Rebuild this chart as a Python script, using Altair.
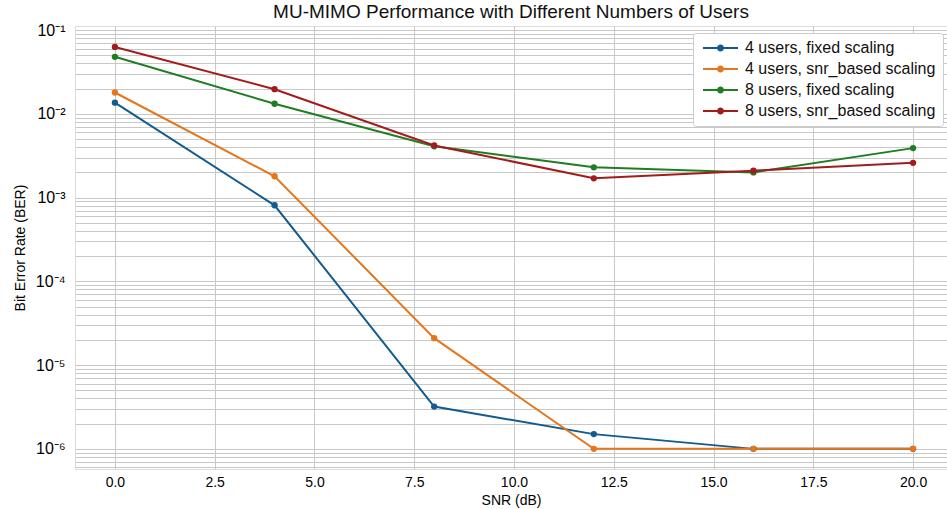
import altair as alt
import pandas as pd

# SNR sweep (dB) and measured bit error rates for each configuration
snr_db = [0, 4, 8, 12, 16, 20]
ber_4_fixed = [0.0136, 8.1e-4, 3.2e-6, 1.5e-6, 1.0e-6, 1.0e-6]
ber_4_snr = [0.0180, 1.8e-3, 2.1e-5, 1.0e-6, 1.0e-6, 1.0e-6]
ber_8_fixed = [0.0480, 0.0132, 0.0041, 0.0023, 0.0020, 0.0039]
ber_8_snr = [0.0630, 0.0197, 0.0042, 0.0017, 0.0021, 0.0026]

series_names = [
    "4 users, fixed scaling",
    "4 users, snr_based scaling",
    "8 users, fixed scaling",
    "8 users, snr_based scaling",
]
series_values = [ber_4_fixed, ber_4_snr, ber_8_fixed, ber_8_snr]
series_colors = ["#125b8e", "#e5761b", "#1f7d22", "#a31c1d"]

x_ticks = [0, 2.5, 5, 7.5, 10, 12.5, 15, 17.5, 20]
# major + minor log gridlines
y_grid = [m * 10.0 ** e for e in range(-7, 0) for m in range(1, 10)]
y_grid = [v for v in y_grid if 5.75e-7 <= v <= 0.112]

rows = []
for name, vals in zip(series_names, series_values):
    for s, b in zip(snr_db, vals):
        rows.append({"snr": s, "ber": b, "series": name})
df = pd.DataFrame(rows)

FONT = "Liberation Sans"

x_enc = alt.X(
    "snr:Q",
    scale=alt.Scale(domain=[-1.0, 20.85], nice=False, zero=False),
    axis=alt.Axis(
        title="SNR (dB)",
        values=x_ticks,
        format=".1f",
        labelFontSize=14,
        titleFontSize=14,
        titleFontWeight="normal",
        labelPadding=6,
        titlePadding=4,
        tickSize=0,
        domain=False,
        gridColor="#c8c8c8",
        gridWidth=1,
    ),
)

# decade labels written as 10 with a superscript exponent; minor ticks unlabeled
sup_expr = (
    "abs(log(datum.value)/LN10 - round(log(datum.value)/LN10)) < 1e-6 ? "
    "'10' + ['\u2070','\u207b\u00b9','\u207b\u00b2','\u207b\u00b3','\u207b\u2074','\u207b\u2075','\u207b\u2076','\u207b\u2077']"
    "[-round(log(datum.value)/LN10)] : ''"
)

y_enc = alt.Y(
    "ber:Q",
    scale=alt.Scale(type="log", domain=[5.75e-7, 0.112], nice=False),
    axis=alt.Axis(
        title="Bit Error Rate (BER)",
        values=y_grid,
        labelExpr=sup_expr,
        labelFontSize=16,
        titleFontSize=14,
        titleFontWeight="normal",
        labelPadding=10,
        titlePadding=8,
        tickSize=0,
        domain=False,
        gridColor="#c8c8c8",
        gridWidth=1,
        labelOverlap=False,
        labelBound=False,
    ),
)

color_scale = alt.Scale(domain=series_names, range=series_colors)

# legend glyph (unit = 5 px): a 35 px line segment with a dot in the middle,
# drawn to the right of the symbol anchor
LINE_DOT = (
    "M-1,-0.2L6,-0.2L6,0.2L-1,0.2Z "
    "M1.8,0A0.7,0.7 0 1,1 3.2,0A0.7,0.7 0 1,1 1.8,0Z"
)

lines = (
    alt.Chart(df)
    .mark_line(strokeWidth=2)
    .encode(
        x=x_enc,
        y=y_enc,
        stroke=alt.Stroke("series:N", scale=color_scale, legend=None),
    )
)

points = (
    alt.Chart(df)
    .mark_point(filled=True, size=40, opacity=1)
    .encode(
        x=x_enc,
        y=y_enc,
        fill=alt.Fill(
            "series:N",
            scale=color_scale,
            legend=alt.Legend(
                title=None,
                orient="none",
                legendX=618,
                legendY=7,
                symbolType=LINE_DOT,
                symbolSize=100,
                symbolStrokeWidth=0,
                labelFontSize=16,
                labelFont=FONT,
                labelColor="#111111",
                labelLimit=300,
                labelOffset=29,
                rowPadding=5,
                padding=7,
                fillColor="white",
                strokeColor="#cccccc",
                cornerRadius=3,
            ),
        ),
    )
)

chart = (
    alt.layer(lines, points)
    .resolve_legend(stroke="independent", fill="independent")
    .properties(
        width=872,
        height=443,
        autosize=alt.AutoSizeParams(type="none"),
        padding={"left": 75, "top": 26, "right": 0, "bottom": 40},
        title=alt.TitleParams(
            "MU-MIMO Performance with Different Numbers of Users",
            fontSize=19,
            font=FONT,
            fontWeight="normal",
            color="#111111",
            anchor="middle",
            frame="group",
            offset=0,
        ),
    )
    .configure_view(stroke="#c8c8c8", strokeWidth=1)
    .configure_axis(labelFont=FONT, titleFont=FONT, labelColor="#222222",
                    titleColor="#222222")
    .configure(background="white")
)

chart.save("out.html", embed_options={"renderer": "svg", "actions": False})
